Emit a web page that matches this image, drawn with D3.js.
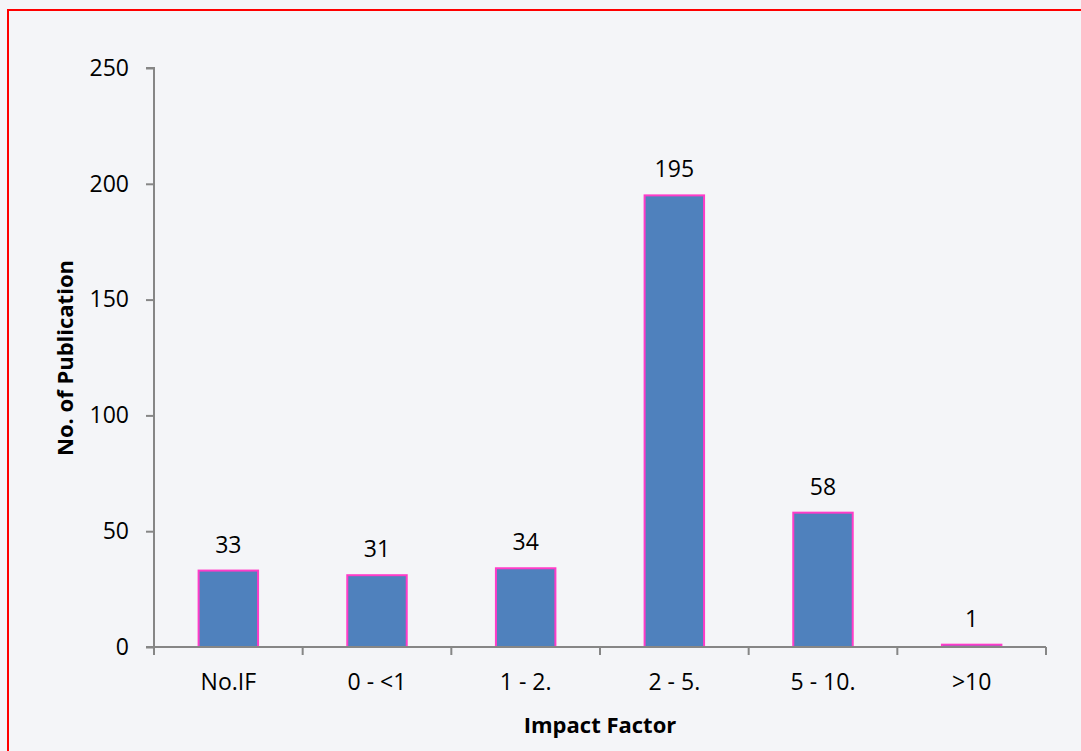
<!DOCTYPE html>
<html>
<head>
<meta charset="utf-8">
<script src="https://cdn.jsdelivr.net/npm/d3@7"></script>
<style>
  body { margin: 0; background: #f4f5f8; }
  svg { display: block; font-family: "Open Sans", sans-serif; }
</style>
</head>
<body>
<div class="chart"></div>
<script>
const categories = ["No.IF", "0 - <1", "1 - 2.", "2 - 5.", "5 - 10.", ">10"];
const counts = [33, 31, 34, 195, 58, 1];
const yTicks = [0, 50, 100, 150, 200, 250];

const w = 1081;
const h = 751;
const plotLeft = 154, plotRight = 1046, plotTop = 68, plotBottom = 647;

const svg = d3
  .select(".chart")
  .append("svg")
  .attr("width", w)
  .attr("height", h);

svg.append("rect")
  .attr("width", w).attr("height", h)
  .attr("fill", "#f4f5f8");

// red frame (only top and left edges are visible in the picture)
svg.append("rect")
  .attr("x", 8).attr("y", 10)
  .attr("width", w + 20).attr("height", h + 20)
  .attr("fill", "none")
  .attr("stroke", "#ff0000")
  .attr("stroke-width", 2);

// scales
const xScale = d3.scaleBand().domain(categories).range([plotLeft, plotRight]).paddingInner(0).paddingOuter(0);
const yScale = d3.scaleLinear().domain([0, 250]).range([plotBottom, plotTop]);
const barW = xScale.bandwidth() * 0.4;

// bars
svg.selectAll(".bar")
  .data(counts)
  .enter()
  .append("rect")
  .attr("class", "bar")
  .attr("x", (d, i) => xScale(categories[i]) + (xScale.bandwidth() - barW) / 2)
  .attr("y", (d) => yScale(d))
  .attr("width", barW)
  .attr("height", (d) => plotBottom - yScale(d))
  .attr("fill", "#4f81bd")
  .attr("stroke", "#ff3cc8")
  .attr("stroke-width", 2);

// value labels
svg.selectAll(".val")
  .data(counts)
  .enter()
  .append("text")
  .attr("class", "val")
  .attr("x", (d, i) => xScale(categories[i]) + xScale.bandwidth() / 2)
  .attr("y", (d) => yScale(d) - 18)
  .attr("text-anchor", "middle")
  .attr("font-size", 23)
  .attr("fill", "#000")
  .text((d) => d);

// axes
const yAxis = d3.axisLeft(yScale).tickValues(yTicks).tickSize(8).tickPadding(17);
const gy = svg.append("g").attr("transform", `translate(${plotLeft},0)`).call(yAxis);

const xAxis = d3.axisBottom(xScale).tickSize(0).tickPadding(27);
const gx = svg.append("g").attr("transform", `translate(0,${plotBottom})`).call(xAxis);

// category boundary ticks
const bounds = categories.map((c) => xScale(c)).concat([plotRight]);
gx.selectAll(".bound")
  .data(bounds)
  .enter()
  .append("line")
  .attr("class", "bound")
  .attr("x1", (d) => d).attr("x2", (d) => d)
  .attr("y1", 0).attr("y2", 8)
  .attr("stroke", "#868686")
  .attr("stroke-width", 2);

[gx, gy].forEach((g) => {
  g.select(".domain").attr("stroke", "#868686").attr("stroke-width", 2);
  g.selectAll(".tick line").attr("stroke", "#868686").attr("stroke-width", 2);
  g.selectAll("text")
    .attr("font-family", "Open Sans, sans-serif")
    .attr("font-size", 23)
    .attr("fill", "#000");
});
gy.select(".domain").attr("d", `M-8,${plotTop}H0V${plotBottom}`);
gx.select(".domain").attr("d", `M${plotLeft - 8},0H${plotRight}`);

// axis titles
svg.append("text")
  .attr("x", (plotLeft + plotRight) / 2)
  .attr("y", 733)
  .attr("text-anchor", "middle")
  .attr("font-size", 22)
  .attr("font-weight", "bold")
  .text("Impact Factor");

svg.append("text")
  .attr("transform", `translate(73,358) rotate(-90)`)
  .attr("text-anchor", "middle")
  .attr("font-size", 22)
  .attr("font-weight", "bold")
  .text("No. of Publication");
</script>
</body>
</html>
